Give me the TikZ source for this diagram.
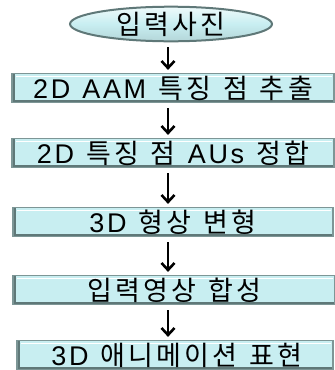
\documentclass[tikz,border=0pt]{standalone}
\usepackage{fontspec}
\usetikzlibrary{arrows.meta,shapes.geometric}
\newfontfamily\kr[LetterSpace=12]{Noto Sans CJK KR}
\newfontfamily\la[LetterSpace=10]{Liberation Sans}
\newcommand\ws{\hspace{12pt}}
\definecolor{boxfill}{RGB}{200,238,241}
\definecolor{boxline}{RGB}{125,150,150}
\definecolor{bevdark}{RGB}{95,120,120}
\begin{document}
\begin{tikzpicture}[x=1pt,y=-1pt,
  stepbox/.style={draw=boxline, fill=boxfill, line width=1.2pt, minimum height=29pt, inner sep=0pt,
    font=\kr\fontsize{27pt}{29pt}\selectfont,
    path picture={
      \draw[bevdark, line width=5pt] (path picture bounding box.north west) -- (path picture bounding box.south west) -- (path picture bounding box.south east);
      \draw[white, line width=1pt] ([xshift=4pt,yshift=-2.5pt]path picture bounding box.north west) -- ([xshift=-2pt,yshift=-2.5pt]path picture bounding box.north east);
      \draw[boxline!60, line width=3pt] (path picture bounding box.north east) -- (path picture bounding box.south east);
    }},
  startnode/.style={ellipse, draw=bevdark, top color=white!70!boxfill, bottom color=boxfill!90!black, middle color=boxfill, line width=2pt, minimum width=202pt, minimum height=28pt, inner sep=0pt,
    font=\kr\fontsize{27pt}{29pt}\selectfont},
  arr/.style={-{Straight Barb[length=7pt,width=13pt]}, line width=2.6pt, shorten <=5pt, shorten >=3pt}]
\useasboundingbox (0,0) rectangle (335,370);
\node[startnode] (s) at (171,24) {입력사진\hspace{6pt}};
\node[stepbox, minimum width=322pt] (b1) at (173,88) {{\la 2D\ws AAM}\ws 특징\ws 점\ws 추출\hspace{20pt}};
\node[stepbox, minimum width=322pt] (b2) at (173,153) {{\la 2D}\ws 특징\ws 점\ws {\la AUs}\ws 정합\hspace{19pt}};
\node[stepbox, minimum width=320pt] (b3) at (173,222) {{\la 3D}\ws 형상\ws 변형\hspace{20pt}};
\node[stepbox, minimum width=322pt] (b4) at (174,290) {입력영상\ws 합성\hspace{7pt}};
\node[stepbox, minimum width=316pt] (b5) at (175,355) {\hspace{4pt}{\la 3D}\ws 애니메이션\ws 표현};
\draw[arr] ([xshift=-3pt]s.south) -- ([xshift=-5pt]b1.north);
\draw[arr] ([xshift=-5pt]b1.south) -- ([xshift=-5pt]b2.north);
\draw[arr] ([xshift=-5pt]b2.south) -- ([xshift=-5pt]b3.north);
\draw[arr] ([xshift=-5pt]b3.south) -- ([xshift=-6pt]b4.north);
\draw[arr] ([xshift=-6pt]b4.south) -- ([xshift=-7pt]b5.north);
\end{tikzpicture}
\end{document}
